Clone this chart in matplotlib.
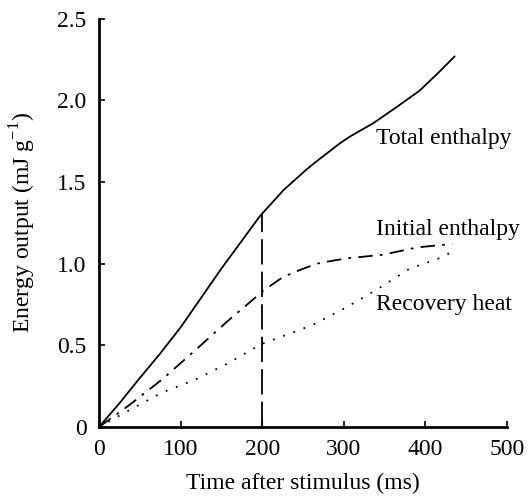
import matplotlib.pyplot as plt
from matplotlib.ticker import FixedLocator, FixedFormatter

plt.rcParams['font.family'] = ['Liberation Serif', 'DejaVu Serif']
plt.rcParams['mathtext.fontset'] = 'custom'
plt.rcParams['mathtext.rm'] = 'Liberation Serif'

# values
t_total = [0, 25, 50, 75, 100, 125, 150, 175, 197, 226, 255, 270, 283, 296, 308, 336, 365, 393, 414, 436]
total = [0, 0.145, 0.30, 0.45, 0.61, 0.79, 0.97, 1.14, 1.29, 1.45, 1.58, 1.64, 1.69, 1.74, 1.78, 1.86, 1.96, 2.06, 2.16, 2.27]

t_init = [0, 36, 77, 118, 158, 191, 200, 226, 248, 267, 288, 308, 348, 390, 420, 433]
initial = [0, 0.13, 0.29, 0.47, 0.65, 0.79, 0.83, 0.92, 0.965, 1.00, 1.02, 1.035, 1.055, 1.10, 1.115, 1.12]

t_rec = [0, 36, 77, 118, 158, 200, 222, 262, 304, 340, 381, 418, 432]
recovery = [0, 0.10, 0.21, 0.29, 0.39, 0.51, 0.55, 0.625, 0.735, 0.84, 0.97, 1.035, 1.07]

stim_t = 200
stim_top = 1.31

yticks = [0, 0.5, 1.0, 1.5, 2.0, 2.5]
ytick_labels = ['0', '0.5', '1.0', '1.5', '2.0', '2.5']
xticks = [0, 100, 200, 300, 400, 500]

fig = plt.figure(figsize=(5.28, 4.99), dpi=100)
ax = fig.add_axes([0.1875, 0.1443, 0.7725, 0.818])

ax.plot(t_total, total, color='black', lw=1.3, solid_capstyle='round')
ax.plot(t_init, initial, color='black', lw=1.3, linestyle=(0, (8, 4, 1.5, 4)))
ax.plot(t_rec, recovery, color='black', lw=1.3, linestyle=(0, (1, 5)))
ax.plot([stim_t, stim_t], [0, stim_top], color='black', lw=1.3, linestyle=(0, (14, 4)))

ax.text(339, 1.77, 'Total enthalpy', fontsize=17, va='center')
ax.text(339, 1.21, 'Initial enthalpy', fontsize=17, va='center')
ax.text(339, 0.75, 'Recovery heat', fontsize=17, va='center')

ax.set_xlim(0, 500)
ax.set_ylim(0, 2.5)
ax.xaxis.set_major_locator(FixedLocator(xticks))
ax.yaxis.set_major_locator(FixedLocator(yticks))
ax.yaxis.set_major_formatter(FixedFormatter(ytick_labels))
ax.tick_params(direction='in', length=4, width=1.2, labelsize=17, pad=9)

for s in ['top', 'right']:
    ax.spines[s].set_visible(False)
for s in ['left', 'bottom']:
    ax.spines[s].set_linewidth(2)

ax.set_xlabel('Time after stimulus (ms)', fontsize=17, labelpad=9)
ax.set_ylabel(r'Energy output (mJ g$^{-1}$)', fontsize=17, labelpad=14)

fig.savefig('out.png', dpi=100)
